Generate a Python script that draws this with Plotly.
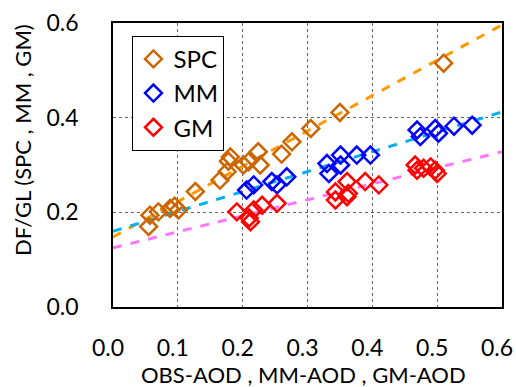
import plotly.graph_objects as go

spc_x = [0.055, 0.057, 0.070, 0.088, 0.101, 0.095, 0.127, 0.165, 0.176, 0.181, 0.178, 0.201, 0.209, 0.227, 0.224, 0.260, 0.276, 0.305, 0.350, 0.510]
spc_y = [0.170, 0.194, 0.201, 0.208, 0.205, 0.213, 0.244, 0.268, 0.286, 0.317, 0.308, 0.300, 0.307, 0.300, 0.328, 0.323, 0.349, 0.377, 0.411, 0.515]

mm_x = [0.206, 0.217, 0.245, 0.253, 0.268, 0.330, 0.333, 0.351, 0.351, 0.376, 0.397, 0.469, 0.474, 0.497, 0.502, 0.526, 0.554]
mm_y = [0.247, 0.258, 0.265, 0.258, 0.275, 0.303, 0.282, 0.321, 0.300, 0.321, 0.321, 0.374, 0.360, 0.377, 0.367, 0.382, 0.384]

gm_x = [0.191, 0.212, 0.210, 0.217, 0.230, 0.253, 0.343, 0.343, 0.361, 0.363, 0.361, 0.389, 0.410, 0.466, 0.469, 0.479, 0.490, 0.497, 0.500]
gm_y = [0.201, 0.180, 0.188, 0.205, 0.215, 0.219, 0.226, 0.243, 0.265, 0.240, 0.233, 0.265, 0.258, 0.300, 0.289, 0.293, 0.296, 0.289, 0.282]

fit_x = [0.0, 0.6]
spc_fit = [0.148, 0.596]
mm_fit = [0.160, 0.412]
gm_fit = [0.125, 0.328]

FONT = "Lato"
fig = go.Figure()

for fy, col in [(spc_fit, "#FF9900"), (mm_fit, "#00B0F0"), (gm_fit, "#FF77FF")]:
    fig.add_trace(go.Scatter(x=fit_x, y=fy, mode="lines", showlegend=False,
                             line=dict(color=col, width=3, dash="dash")))

for name, xs, ys, col in [("SPC", spc_x, spc_y, "#CC6600"), ("MM", mm_x, mm_y, "#0000FF"), ("GM", gm_x, gm_y, "#FF0000")]:
    fig.add_trace(go.Scatter(x=xs, y=ys, mode="markers", name=name,
                             marker=dict(symbol="diamond-open", size=13, color=col, line=dict(width=2.5, color=col))))

fig.update_layout(
    width=516, height=387,
    margin=dict(l=113, r=14, t=23, b=80, autoexpand=False),
    plot_bgcolor="white", paper_bgcolor="white",
    font=dict(family=FONT, size=24, color="black"),
    legend=dict(x=0.05, y=0.955, xanchor="left", yanchor="top",
                bordercolor="black", borderwidth=1, bgcolor="white",
                font=dict(size=24), itemwidth=30, tracegroupgap=0),
    xaxis=dict(range=[0, 0.6], tickvals=[0, 0.1, 0.2, 0.3, 0.4, 0.5, 0.6],
               ticktext=["0.0", "0.1", "0.2", "0.3", "0.4", "0.5", "0.6"],
               showgrid=True, gridcolor="#666666", griddash="3px,3px", gridwidth=1,
               showline=True, linecolor="black", linewidth=1.5, mirror=True,
               ticks="", ticklabelstandoff=20, ticklabelshift=-5, zeroline=False,
               ticklabeloverflow="allow", automargin=False, tickfont=dict(size=23)),
    yaxis=dict(range=[0, 0.6], tickvals=[0, 0.2, 0.4, 0.6],
               ticktext=["0.0", "0.2", "0.4", "0.6"],
               showgrid=True, gridcolor="#666666", griddash="3px,3px", gridwidth=1,
               showline=True, linecolor="black", linewidth=1.5, mirror=True,
               ticks="", ticklabelstandoff=28, zeroline=False, automargin=False,
               tickfont=dict(size=23)),
    annotations=[
        dict(text="DF/GL (SPC , MM , GM)", textangle=-90, xref="paper", yref="paper",
             x=-0.234, y=0.588, xanchor="center", yanchor="middle", showarrow=False,
             font=dict(size=22, family=FONT)),
        dict(text="OBS-AOD , MM-AOD , GM-AOD", xref="paper", yref="paper",
             x=0.49, y=-0.239, xanchor="center", yanchor="middle", showarrow=False,
             font=dict(size=22, family=FONT)),
    ],
)

fig.write_html("out.html")
